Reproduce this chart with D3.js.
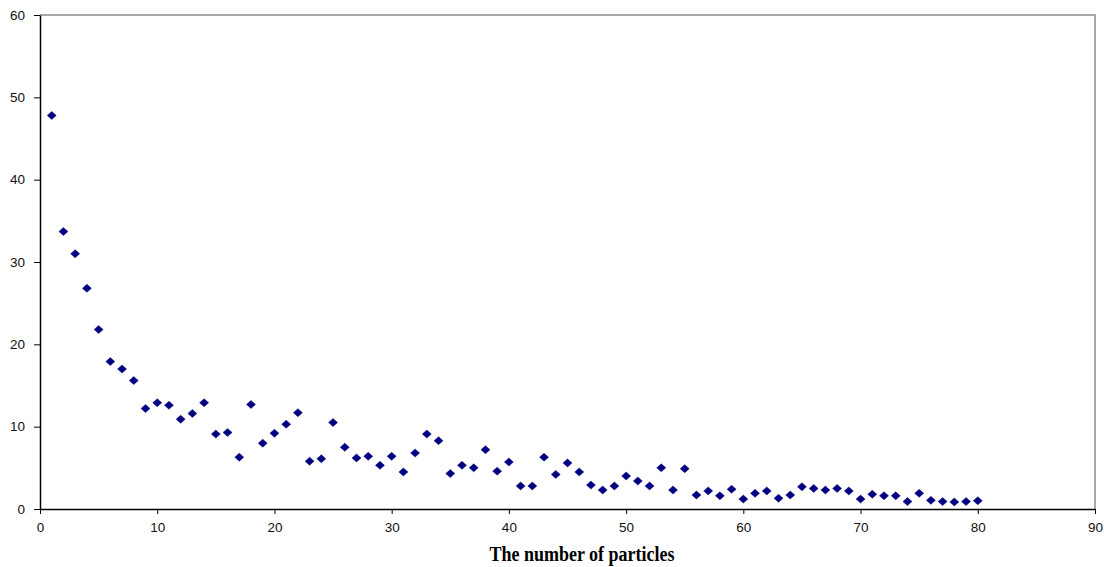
<!DOCTYPE html>
<html>
<head>
<meta charset="utf-8">
<script src="https://cdn.jsdelivr.net/npm/d3@7"></script>
<style>
  html, body { margin: 0; padding: 0; background: #fff; }
  #chart { width: 1104px; height: 567px; }
  .tick text { font-family: "Liberation Sans", Arial, sans-serif; font-size: 13.5px; fill: #111; }
</style>
</head>
<body>
<div id="chart"></div>
<script>
// particle count on x, measured value on y
const xValues = d3.range(1, 81);
const yValues = [
  47.8, 33.7, 31.0, 26.8, 21.8, 17.9, 17.0, 15.6, 12.2, 12.9,
  12.6, 10.9, 11.6, 12.9, 9.1, 9.3, 6.3, 12.7, 8.0, 9.2,
  10.3, 11.7, 5.8, 6.1, 10.5, 7.5, 6.2, 6.4, 5.3, 6.4,
  4.5, 6.8, 9.1, 8.3, 4.3, 5.3, 5.0, 7.2, 4.6, 5.7,
  2.8, 2.8, 6.3, 4.2, 5.6, 4.5, 2.9, 2.3, 2.8, 4.0,
  3.4, 2.8, 5.0, 2.3, 4.9, 1.7, 2.2, 1.6, 2.4, 1.2,
  1.9, 2.2, 1.3, 1.7, 2.7, 2.5, 2.3, 2.5, 2.2, 1.2,
  1.8, 1.6, 1.6, 0.9, 1.9, 1.05, 0.9, 0.85, 0.9, 1.0
];
const xTicks = d3.range(0, 91, 10);
const yTicks = d3.range(0, 61, 10);
const xTitle = "The number of particles";

const data = xValues.map((x, i) => ({ x: x, y: yValues[i] }));

const w = 1104, h = 567;
const m = { top: 15, right: 9, bottom: 58, left: 40 };
const iW = w - m.left - m.right;
const iH = h - m.top - m.bottom;

const svg = d3.select("#chart").append("svg")
  .attr("width", w)
  .attr("height", h);

const g = svg.append("g").attr("transform", `translate(${m.left},${m.top})`);

const x = d3.scaleLinear().domain([0, 90]).range([0, iW]);
const y = d3.scaleLinear().domain([0, 60]).range([iH, 0]);

// gray frame on top and right
g.append("path")
  .attr("d", `M0,${y(60)}H${iW}V${iH}`)
  .attr("fill", "none")
  .attr("stroke", "#8c8c8c")
  .attr("stroke-width", 1.5);

const xAxisG = g.append("g")
  .attr("transform", `translate(0,${iH})`)
  .call(d3.axisBottom(x).tickValues(xTicks).tickSize(5).tickPadding(8).tickSizeOuter(0));

const yAxisG = g.append("g")
  .call(d3.axisLeft(y).tickValues(yTicks).tickSize(6).tickPadding(9).tickSizeOuter(0));

[xAxisG, yAxisG].forEach(a => {
  a.select(".domain").attr("stroke", "#000").attr("stroke-width", 1.5);
  a.selectAll(".tick line").attr("stroke", "#000").attr("stroke-width", 1);
});

// diamond markers
const diamond = "M0,-4L4.5,0L0,4L-4.5,0Z";
g.selectAll("path.pt")
  .data(data)
  .join("path")
  .attr("class", "pt")
  .attr("d", diamond)
  .attr("transform", d => `translate(${x(d.x)},${y(d.y)})`)
  .attr("fill", "#000080")
  .attr("stroke", "#000080")
  .attr("stroke-width", 0.5);

svg.append("text")
  .attr("x", 582)
  .attr("y", 561)
  .attr("text-anchor", "middle")
  .attr("textLength", 185)
  .attr("lengthAdjust", "spacingAndGlyphs")
  .style("font-family", "'Liberation Serif', 'Times New Roman', serif")
  .style("font-size", "20px")
  .style("font-weight", "bold")
  .style("fill", "#000")
  .text(xTitle);
</script>
</body>
</html>
